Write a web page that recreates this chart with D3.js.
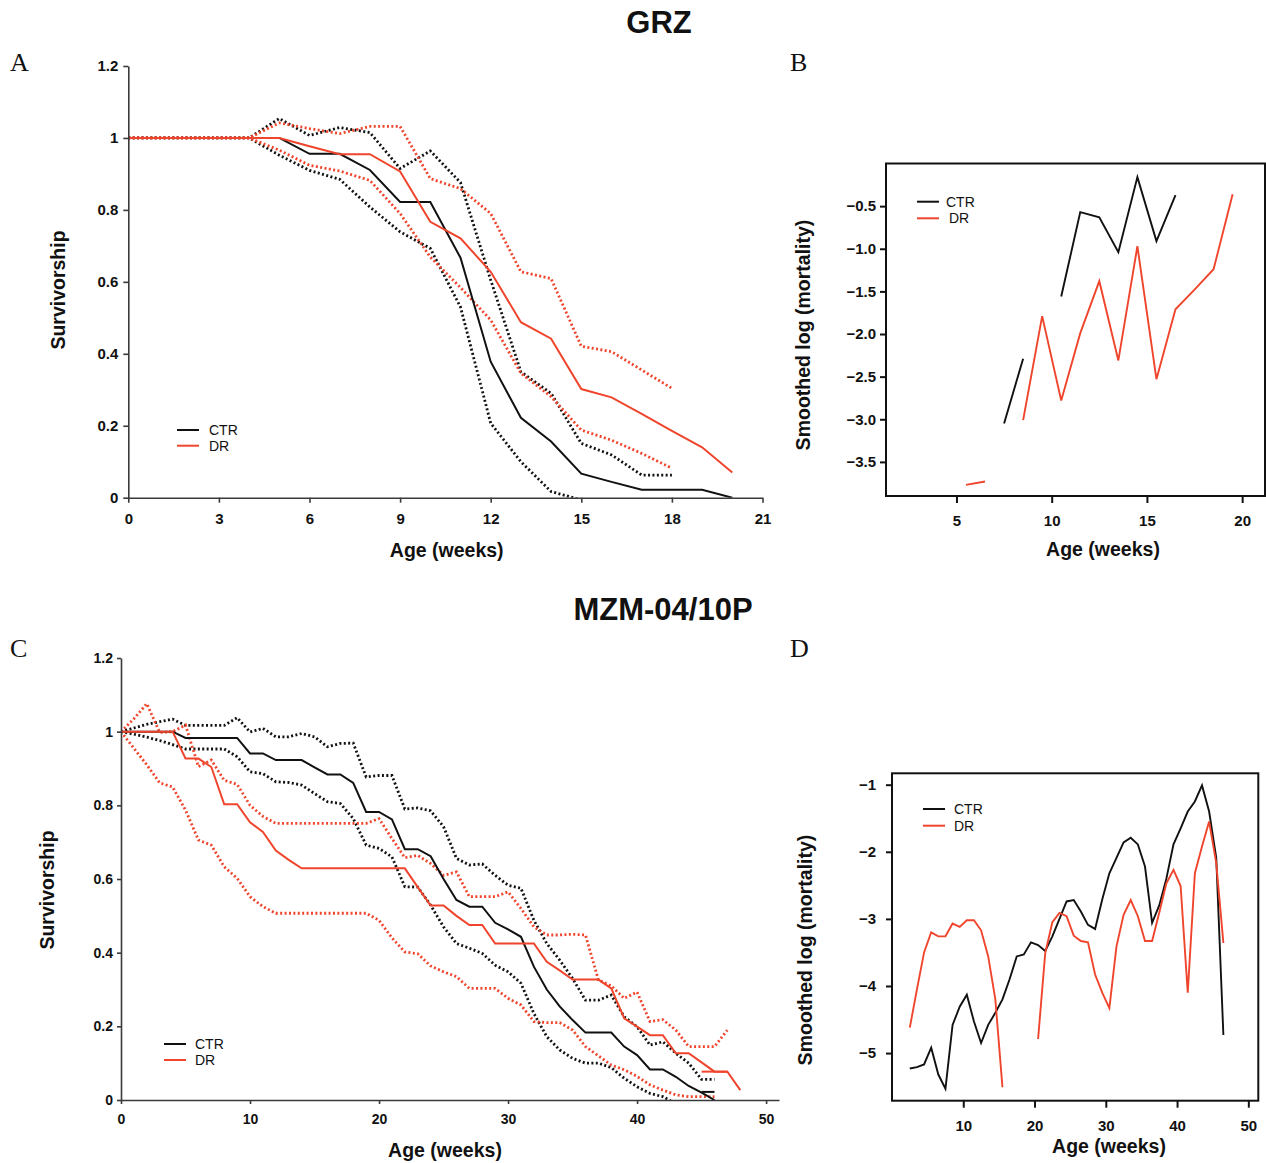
<!DOCTYPE html>
<html lang="en">
  <head>
    <meta charset="utf-8" />
    <script src="https://cdn.jsdelivr.net/npm/d3@7/dist/d3.min.js"></script>
    <style>
      body { margin: 0; background: #fff; }
      svg { display: block; font-family: "Liberation Sans", Arial, sans-serif; }
      .ctr { stroke: #111; }
      .dr { stroke: #f0452d; }
      .est { fill: none; stroke-width: 2; }
      .ci { fill: none; stroke-width: 2.8; stroke-dasharray: 2 2.4; }
      .mort { fill: none; stroke-width: 1.9; }
      .tick text { font-weight: bold; fill: #111; }
      .axlab { font-weight: bold; font-size: 19.5px; fill: #111; }
      .title { font-weight: bold; font-size: 31px; fill: #111; }
      .letter { font-family: "Liberation Serif", "Times New Roman", serif; font-size: 26px; fill: #111; }
      .leg { font-size: 14px; fill: #111; }
    </style>
  </head>
  <body>
    <div id="container"></div>

    <script>
      // ---- GRZ survivorship (panel A), weekly
      const grzWeeks = [0, 1, 2, 3, 4, 5, 6, 7, 8, 9, 10, 11, 12, 13, 14, 15, 16, 17, 18, 19, 20];
      const grzCtr = [1, 1, 1, 1, 1, 1, 0.956, 0.956, 0.911, 0.822, 0.822, 0.667, 0.378, 0.222, 0.156, 0.067, 0.044, 0.022, 0.022, 0.022, 0];
      const grzDr = [1, 1, 1, 1, 1, 1, 0.977, 0.955, 0.955, 0.907, 0.767, 0.721, 0.628, 0.488, 0.442, 0.302, 0.279, 0.233, 0.186, 0.14, 0.07];
      const grzCtrUp = [1, 1, 1, 1, 1, 1.054, 1.007, 1.029, 1.015, 0.915, 0.964, 0.876, 0.605, 0.35, 0.29, 0.151, 0.119, 0.063, 0.063];
      const grzCtrLo = [1, 1, 1, 1, 1, 0.952, 0.91, 0.885, 0.808, 0.739, 0.693, 0.53, 0.207, 0.1, 0.017, -0.006];
      const grzDrUp = [1, 1, 1, 1, 1, 1.042, 1.026, 1.012, 1.032, 1.032, 0.887, 0.859, 0.79, 0.628, 0.609, 0.421, 0.406, 0.355, 0.304];
      const grzDrLo = [1, 1, 1, 1, 1, 0.966, 0.924, 0.908, 0.882, 0.79, 0.669, 0.584, 0.494, 0.346, 0.281, 0.188, 0.16, 0.123, 0.082];

      // ---- GRZ smoothed log mortality (panel B)
      const grzMortWeeks = [5.5, 6.5, 7.5, 8.5, 9.5, 10.5, 11.5, 12.5, 13.5, 14.5, 15.5, 16.5, 17.5, 18.5, 19.5];
      const grzMortCtr = [null, null, -3.05, -2.29, null, -1.56, -0.57, -0.63, -1.04, -0.16, -0.91, -0.37, null, null, null];
      const grzMortDr = [-3.77, -3.73, null, -3.01, -1.79, -2.78, -1.99, -1.38, -2.31, -0.97, -2.53, -1.71, -1.48, -1.24, -0.36];

      // ---- MZM-04/10P survivorship (panel C), weekly
      const mzmWeeks = d3.range(0, 49);
      const mzmCtr = [1, 1, 1, 1, 1, 0.983, 0.983, 0.983, 0.983, 0.983, 0.941, 0.941, 0.923, 0.923, 0.923, 0.903, 0.884, 0.884, 0.861, 0.782,
        0.782, 0.762, 0.681, 0.681, 0.662, 0.6, 0.543, 0.525, 0.525, 0.481, 0.463, 0.443, 0.362, 0.3, 0.254, 0.217, 0.183, 0.183, 0.183, 0.145,
        0.122, 0.083, 0.083, 0.063, 0.038, 0.02, 0];
      const mzmDr = [1, 1, 1, 1, 1, 0.927, 0.927, 0.904, 0.803, 0.803, 0.754, 0.728, 0.677, 0.652, 0.629, 0.629, 0.629, 0.629, 0.629, 0.629,
        0.629, 0.629, 0.629, 0.578, 0.528, 0.528, 0.5, 0.475, 0.475, 0.425, 0.425, 0.425, 0.425, 0.375, 0.352, 0.327, 0.327, 0.327, 0.303, 0.222,
        0.199, 0.176, 0.176, 0.127, 0.127, 0.102, 0.077, 0.077, 0.027];
      const mzmCtrUp = [1, 1.01, 1.02, 1.027, 1.034, 1.017, 1.017, 1.017, 1.017, 1.038, 0.999, 1.009, 0.986, 0.986, 0.995, 0.986, 0.959, 0.968, 0.969, 0.877,
        0.881, 0.881, 0.79, 0.793, 0.785, 0.742, 0.656, 0.638, 0.641, 0.61, 0.583, 0.575, 0.488, 0.425, 0.38, 0.33, 0.271, 0.271, 0.285, 0.226,
        0.199, 0.149, 0.158, 0.127, 0.1, 0.056, 0.056];
      const mzmCtrLo = [1, 0.993, 0.985, 0.976, 0.965, 0.953, 0.953, 0.953, 0.953, 0.932, 0.891, 0.886, 0.864, 0.862, 0.855, 0.832, 0.81, 0.805, 0.764, 0.692,
        0.683, 0.66, 0.579, 0.578, 0.529, 0.47, 0.425, 0.412, 0.398, 0.366, 0.348, 0.317, 0.235, 0.172, 0.136, 0.113, 0.1, 0.1, 0.088, 0.059,
        0.036, 0.018, 0.009, -0.01];
      const mzmDrUp = [1, 1.035, 1.076, 0.998, 1.0, 1.018, 0.905, 0.923, 0.868, 0.857, 0.8, 0.77, 0.751, 0.751, 0.751, 0.751, 0.751, 0.751, 0.751, 0.751,
        0.764, 0.71, 0.658, 0.664, 0.642, 0.61, 0.619, 0.552, 0.552, 0.552, 0.565, 0.52, 0.47, 0.448, 0.448, 0.45, 0.448, 0.326, 0.31, 0.276,
        0.293, 0.213, 0.218, 0.19, 0.145, 0.145, 0.145, 0.19];
      const mzmDrLo = [1, 0.955, 0.91, 0.861, 0.85, 0.787, 0.706, 0.692, 0.633, 0.602, 0.552, 0.525, 0.507, 0.507, 0.507, 0.507, 0.507, 0.507, 0.507, 0.507,
        0.488, 0.44, 0.402, 0.397, 0.364, 0.348, 0.335, 0.303, 0.303, 0.303, 0.276, 0.258, 0.213, 0.21, 0.21, 0.19, 0.145, 0.12, 0.095, 0.082,
        0.064, 0.041, 0.027, 0.014, 0.009, 0.009, 0.009];
      // short flat end pieces drawn on their own
      const mzmCtrTailWeeks = [45, 46];
      const mzmCtrTail = [0.022, 0.022];
      const mzmDrTailWeeks = [45, 47];
      const mzmDrTail = [0.077, 0.077];

      // ---- MZM smoothed log mortality (panel D)
      const mzmMortWeeks = d3.range(2.5, 47, 1);
      const mzmMortCtr = [-5.23, -5.21, -5.17, -4.92, -5.32, -5.53, -4.58, -4.31, -4.13, -4.53, -4.85, -4.58, -4.4, -4.2, -3.9, -3.56, -3.53, -3.35, -3.39, -3.48,
        -3.26, -3.0, -2.74, -2.72, -2.89, -3.09, -3.15, -2.71, -2.32, -2.09, -1.86, -1.79, -1.89, -2.22, -3.06, -2.8, -2.4, -1.89, -1.65, -1.4,
        -1.25, -1.01, -1.4, -2.09, -4.73];
      const mzmMortDr = [-4.62, -4.05, -3.5, -3.2, -3.26, -3.26, -3.07, -3.12, -3.02, -3.02, -3.17, -3.56, -4.2, -5.51, null, null, null, null, -4.79, -3.51,
        -3.05, -2.91, -2.96, -3.25, -3.33, -3.35, -3.83, -4.1, -4.33, -3.41, -2.94, -2.72, -2.96, -3.33, -3.33, -2.91, -2.47, -2.27, -2.51, -4.1,
        -2.32, -1.92, -1.55, -2.17, -3.36];

      const svg = d3.select("#container").append("svg").attr("width", 1266).attr("height", 1163);

      const pts = (xs, ys) => ys.map((v, i) => [xs[i], v]);

      function drawLine(g, x, y, xs, ys, cls) {
        const line = d3
          .line()
          .defined((d) => d[1] !== null)
          .x((d) => x(d[0]))
          .y((d) => y(d[1]));
        g.append("path").datum(pts(xs, ys)).attr("class", cls).attr("d", line);
      }

      function legend(lx, ly, gap, textX) {
        const g = svg.append("g");
        [["CTR", "ctr", 0], ["DR", "dr", 1]].forEach(([t, c, i]) => {
          g.append("line").attr("class", c).attr("stroke-width", 2)
            .attr("x1", lx).attr("x2", lx + 22).attr("y1", ly + i * gap).attr("y2", ly + i * gap);
          g.append("text").attr("class", "leg").attr("x", textX[i]).attr("y", ly + i * gap).attr("dy", "0.36em").text(t);
        });
      }

      // axis text: take the page font, not d3's default sans-serif
      function styleAxis(g, size, color) {
        g.attr("font-family", null).attr("font-size", null);
        g.selectAll("path, line").attr("stroke", color).attr("stroke-width", color === "#111" ? 2 : 1.6);
        g.selectAll("text").attr("font-size", size);
        return g;
      }

      // ---------- A
      const xA = d3.scaleLinear([0, 21], [128.3, 762.5]);
      const yA = d3.scaleLinear([0, 1.2], [497.7, 66]);
      svg.append("clipPath").attr("id", "clipA").append("rect").attr("x", 128).attr("y", 40).attr("width", 640).attr("height", 457.7);
      const gA = svg.append("g").attr("clip-path", "url(#clipA)");
      drawLine(gA, xA, yA, grzWeeks, grzCtrUp, "ci ctr");
      drawLine(gA, xA, yA, grzWeeks, grzCtrLo, "ci ctr");
      drawLine(gA, xA, yA, grzWeeks, grzDrUp, "ci dr");
      drawLine(gA, xA, yA, grzWeeks, grzDrLo, "ci dr");
      drawLine(gA, xA, yA, grzWeeks, grzCtr, "est ctr");
      drawLine(gA, xA, yA, grzWeeks, grzDr, "est dr");
      styleAxis(svg.append("g").attr("transform", "translate(0,497.7)")
        .call(d3.axisBottom(xA).tickValues(d3.range(0, 22, 3)).tickSize(5).tickPadding(11).tickSizeOuter(0)), 15, "#3a3a3a");
      styleAxis(svg.append("g").attr("transform", "translate(128.3,0)")
        .call(d3.axisLeft(yA).tickValues([0, 0.2, 0.4, 0.6, 0.8, 1, 1.2]).tickFormat((d) => +d.toFixed(1)).tickSize(5).tickPadding(5).tickSizeOuter(0)), 15, "#3a3a3a");
      svg.append("text").attr("class", "axlab").attr("x", 446.7).attr("y", 556.5).attr("text-anchor", "middle").text("Age (weeks)");
      svg.append("text").attr("class", "axlab").attr("transform", "translate(65,290) rotate(-90)").attr("text-anchor", "middle").text("Survivorship");
      legend(177, 430, 15.7, [209, 209]);

      // ---------- B
      const xB = d3.scaleLinear([1.3, 21.2], [886, 1265]);
      const yB = d3.scaleLinear([-3.9, 0], [496, 163.5]);
      const gB = svg.append("g");
      drawLine(gB, xB, yB, grzMortWeeks, grzMortCtr, "mort ctr");
      drawLine(gB, xB, yB, grzMortWeeks, grzMortDr, "mort dr");
      const axB1 = svg.append("g").attr("transform", "translate(0,496)")
        .call(d3.axisBottom(xB).tickValues([5, 10, 15, 20]).tickSize(7).tickPadding(12).tickSizeOuter(0));
      const axB2 = svg.append("g").attr("transform", "translate(886,0)")
        .call(d3.axisLeft(yB).tickValues([-3.5, -3, -2.5, -2, -1.5, -1, -0.5]).tickFormat(d3.format(".1f")).tickSize(6).tickPadding(4).tickSizeOuter(0));
      [axB1, axB2].forEach((g) => {
        g.select(".domain").remove();
        styleAxis(g, 15, "#111");
      });
      svg.append("rect").attr("x", 886).attr("y", 163.5).attr("width", 379).attr("height", 332.5)
        .attr("fill", "none").attr("stroke", "#111").attr("stroke-width", 2);
      svg.append("text").attr("class", "axlab").attr("x", 1103).attr("y", 556).attr("text-anchor", "middle").text("Age (weeks)");
      svg.append("text").attr("class", "axlab").attr("transform", "translate(810,335) rotate(-90)").attr("text-anchor", "middle").text("Smoothed log (mortality)");
      legend(917, 201.7, 16.6, [946, 949]);

      // ---------- C
      const xC = d3.scaleLinear([0, 51], [121, 779]);
      const yC = d3.scaleLinear([0, 1.2], [1100, 658]);
      svg.append("clipPath").attr("id", "clipC").append("rect").attr("x", 121).attr("y", 640).attr("width", 660).attr("height", 460);
      const gC = svg.append("g").attr("clip-path", "url(#clipC)");
      drawLine(gC, xC, yC, mzmWeeks, mzmCtrUp, "ci ctr");
      drawLine(gC, xC, yC, mzmWeeks, mzmCtrLo, "ci ctr");
      drawLine(gC, xC, yC, mzmWeeks, mzmDrUp, "ci dr");
      drawLine(gC, xC, yC, mzmWeeks, mzmDrLo, "ci dr");
      drawLine(gC, xC, yC, mzmWeeks, mzmCtr, "est ctr");
      drawLine(gC, xC, yC, mzmWeeks, mzmDr, "est dr");
      drawLine(gC, xC, yC, mzmCtrTailWeeks, mzmCtrTail, "est ctr");
      drawLine(gC, xC, yC, mzmDrTailWeeks, mzmDrTail, "est dr");
      styleAxis(svg.append("g").attr("transform", "translate(0,1100)")
        .call(d3.axisBottom(xC).tickValues([0, 10, 20, 30, 40, 50]).tickSize(4).tickPadding(10).tickSizeOuter(0)), 14, "#3a3a3a");
      styleAxis(svg.append("g").attr("transform", "translate(121,0)")
        .call(d3.axisLeft(yC).tickValues([0, 0.2, 0.4, 0.6, 0.8, 1, 1.2]).tickFormat((d) => +d.toFixed(1)).tickSize(4).tickPadding(4).tickSizeOuter(0)), 14, "#3a3a3a");
      svg.append("text").attr("class", "axlab").attr("x", 445).attr("y", 1157).attr("text-anchor", "middle").text("Age (weeks)");
      svg.append("text").attr("class", "axlab").attr("transform", "translate(54,890) rotate(-90)").attr("text-anchor", "middle").text("Survivorship");
      legend(164, 1044, 16, [195, 195]);

      // ---------- D
      const xD = d3.scaleLinear([0, 51.4], [892, 1258.3]);
      const yD = d3.scaleLinear([-5.71, -0.83], [1100.7, 773.3]);
      const gD = svg.append("g");
      drawLine(gD, xD, yD, mzmMortWeeks, mzmMortCtr, "mort ctr");
      drawLine(gD, xD, yD, mzmMortWeeks, mzmMortDr, "mort dr");
      const axD1 = svg.append("g").attr("transform", "translate(0,1100.7)")
        .call(d3.axisBottom(xD).tickValues([10, 20, 30, 40, 50]).tickSize(7).tickPadding(13).tickSizeOuter(0));
      const axD2 = svg.append("g").attr("transform", "translate(892,0)")
        .call(d3.axisLeft(yD).tickValues([-5, -4, -3, -2, -1]).tickFormat(d3.format("d")).tickSize(6).tickPadding(10).tickSizeOuter(0));
      [axD1, axD2].forEach((g) => {
        g.select(".domain").remove();
        styleAxis(g, 15, "#111");
      });
      svg.append("rect").attr("x", 892).attr("y", 773.3).attr("width", 366.3).attr("height", 327.4)
        .attr("fill", "none").attr("stroke", "#111").attr("stroke-width", 2);
      svg.append("text").attr("class", "axlab").attr("x", 1109).attr("y", 1153).attr("text-anchor", "middle").text("Age (weeks)");
      svg.append("text").attr("class", "axlab").attr("transform", "translate(812,950) rotate(-90)").attr("text-anchor", "middle").text("Smoothed log (mortality)");
      legend(923, 809, 16.7, [954, 954]);

      // ---------- titles and panel letters
      svg.append("text").attr("class", "title").attr("x", 659).attr("y", 33).attr("text-anchor", "middle").text("GRZ");
      svg.append("text").attr("class", "title").attr("x", 663).attr("y", 620).attr("text-anchor", "middle").text("MZM-04/10P");
      [["A", 10, 71], ["B", 790, 71], ["C", 10, 657], ["D", 790, 657]].forEach(([t, x, y]) =>
        svg.append("text").attr("class", "letter").attr("x", x).attr("y", y).text(t)
      );
    </script>
  </body>
</html>
